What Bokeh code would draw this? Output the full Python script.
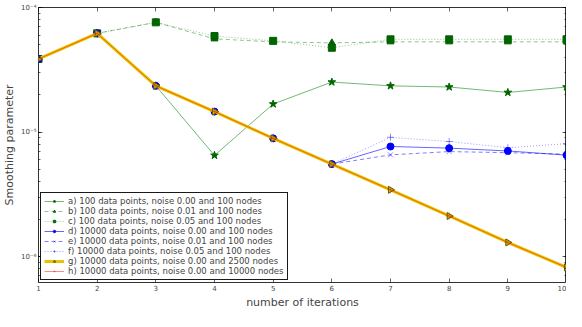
import math
from bokeh.plotting import figure
from bokeh.models import LogAxis, LinearAxis, FixedTicker, CustomJSTickFormatter, LogTicker, Legend
from bokeh.embed import file_html
from bokeh.resources import INLINE

iterations = [1, 2, 3, 4, 5, 6, 7, 8, 9, 10]
series_a = [3.86e-5, 6.2e-5, 2.35e-5, 6.5e-6, 1.68e-5, 2.52e-5, 2.35e-5, 2.3e-5, 2.08e-5, 2.3e-5]
series_b = [3.86e-5, 6.2e-5, 7.6e-5, 5.6e-5, 5.3e-5, 5.2e-5, 5.3e-5, 5.3e-5, 5.3e-5, 5.3e-5]
series_c = [3.86e-5, 6.2e-5, 7.6e-5, 5.9e-5, 5.4e-5, 4.75e-5, 5.55e-5, 5.55e-5, 5.55e-5, 5.55e-5]
series_d = [3.86e-5, 6.2e-5, 2.35e-5, 1.46e-5, 8.9e-6, 5.53e-6, 7.66e-6, 7.43e-6, 7.05e-6, 6.53e-6]
series_e = [3.86e-5, 6.2e-5, 2.35e-5, 1.46e-5, 8.9e-6, 5.53e-6, 6.56e-6, 6.97e-6, 6.83e-6, 6.65e-6]
series_f = [3.86e-5, 6.2e-5, 2.35e-5, 1.46e-5, 8.9e-6, 5.53e-6, 9.08e-6, 8.4e-6, 7.48e-6, 8.07e-6]
series_g = [3.86e-5, 6.2e-5, 2.35e-5, 1.46e-5, 8.9e-6, 5.53e-6, 3.44e-6, 2.12e-6, 1.30e-6, 8.2e-7]
series_h = [3.86e-5, 6.2e-5, 2.35e-5, 1.46e-5, 8.9e-6, 5.53e-6, 3.44e-6, 2.12e-6, 1.30e-6, 8.2e-7]
labels = [
    "a) 100 data points, noise 0.00 and 100 nodes",
    "b) 100 data points, noise 0.01 and 100 nodes",
    "c) 100 data points, noise 0.05 and 100 nodes",
    "d) 10000 data points, noise 0.00 and 100 nodes",
    "e) 10000 data points, noise 0.01 and 100 nodes",
    "f) 10000 data points, noise 0.05 and 100 nodes",
    "g) 10000 data points, noise 0.00 and 2500 nodes",
    "h) 10000 data points, noise 0.00 and 10000 nodes",
]
y_ticks = [1e-6, 1e-5, 1e-4]
x_ticks = [1, 2, 3, 4, 5, 6, 7, 8, 9, 10]

FONT = "DejaVu Sans"

p = figure(width=566, height=311, y_axis_type="log", x_range=(1, 10), y_range=(6.2e-7, 1e-4),
           output_backend="svg", toolbar_location=None,
           min_border_left=2, min_border_right=0, min_border_top=7, min_border_bottom=0)
p.grid.visible = False
p.outline_line_color = "black"
p.outline_line_alpha = 0.8
p.background_fill_color = "white"

fmt = CustomJSTickFormatter(code="""
const e = Math.round(Math.log10(tick));
const sup = {'-':'\u207b','0':'\u2070','1':'\u00b9','2':'\u00b2','3':'\u00b3','4':'\u2074','5':'\u2075','6':'\u2076','7':'\u2077','8':'\u2078','9':'\u2079'};
return '10' + String(e).split('').map(c => sup[c]).join('');
""")
blank = CustomJSTickFormatter(code="return '';")

yax = p.yaxis[0]
yax.ticker = LogTicker(num_minor_ticks=10, desired_num_ticks=3)
yax.formatter = fmt
yax.axis_label = "Smoothing parameter"
xax = p.xaxis[0]
xax.ticker = FixedTicker(ticks=x_ticks)
xax.axis_label = "number of iterations"
for ax in (xax, yax):
    ax.major_label_text_font = FONT
    ax.major_label_text_font_size = "7px"
    ax.axis_label_text_font = FONT
    ax.axis_label_text_font_size = "11px"
    ax.axis_label_text_font_style = "normal"
    ax.major_tick_in = 4
    ax.major_tick_out = 0
    ax.minor_tick_in = 2
    ax.minor_tick_out = 0
    ax.axis_line_color = None
    ax.major_label_standoff = 2
    ax.axis_label_standoff = 2
    ax.major_tick_line_alpha = 0.6
    ax.minor_tick_line_alpha = 0.6

rax = LogAxis(ticker=LogTicker(num_minor_ticks=10), formatter=blank,
              major_tick_in=4, major_tick_out=0, minor_tick_in=2, minor_tick_out=0,
              axis_line_color=None, major_label_standoff=0, major_tick_line_alpha=0.6, minor_tick_line_alpha=0.6)
p.add_layout(rax, "right")
tax = LinearAxis(ticker=FixedTicker(ticks=x_ticks), formatter=blank,
                 major_tick_in=4, major_tick_out=0, minor_tick_in=0, minor_tick_out=0,
                 axis_line_color=None, major_label_standoff=0, major_tick_line_alpha=0.6)
p.add_layout(tax, "above")

items = []
def add(ys, label, color, line_alpha, dash, lw, marker, msize, mcolor, malpha, angle=0.0, mline=None):
    r1 = p.line(iterations, ys, line_color=color, line_alpha=line_alpha, line_dash=dash, line_width=lw)
    r2 = p.scatter(iterations, ys, marker=marker, size=msize, fill_color=mcolor, line_color=mline or mcolor,
                   fill_alpha=malpha, line_alpha=malpha, angle=angle)
    items.append((label, [r1, r2]))

add(series_a, labels[0], "green", 0.55, "solid", 1, "star", 8, "#006400", 1.0)
add(series_b, labels[1], "green", 0.45, "4 3", 1, "triangle", 7, "#006400", 1.0)
add(series_c, labels[2], "green", 0.45, "1 2", 1, "square", 7, "#006400", 1.0)
add(series_d, labels[3], "blue", 0.6, "solid", 1, "circle", 7, "blue", 1.0)
add(series_e, labels[4], "blue", 0.5, "4 3", 1, "x", 7, "blue", 0.45)
add(series_f, labels[5], "blue", 0.4, "1 2", 1, "cross", 7, "blue", 0.45)
add(series_g, labels[6], "#e6c400", 1.0, "solid", 3, "triangle", 7, "#bfbf00", 1.0, -math.pi / 2, "#606000")
add(series_h, labels[7], "red", 0.45, "solid", 1, "cross", 7, "red", 0.3)

legend = Legend(items=items, location="bottom_left", border_line_color="black", border_line_alpha=0.9,
                label_text_font=FONT, label_text_font_size="8.5px", label_text_line_height=0.65,
                label_height=6, label_standoff=4,
                glyph_height=6, glyph_width=20, spacing=0, padding=3, margin=2,
                background_fill_alpha=1.0)
p.add_layout(legend)

open("out.html", "w").write(file_html(p, INLINE))
